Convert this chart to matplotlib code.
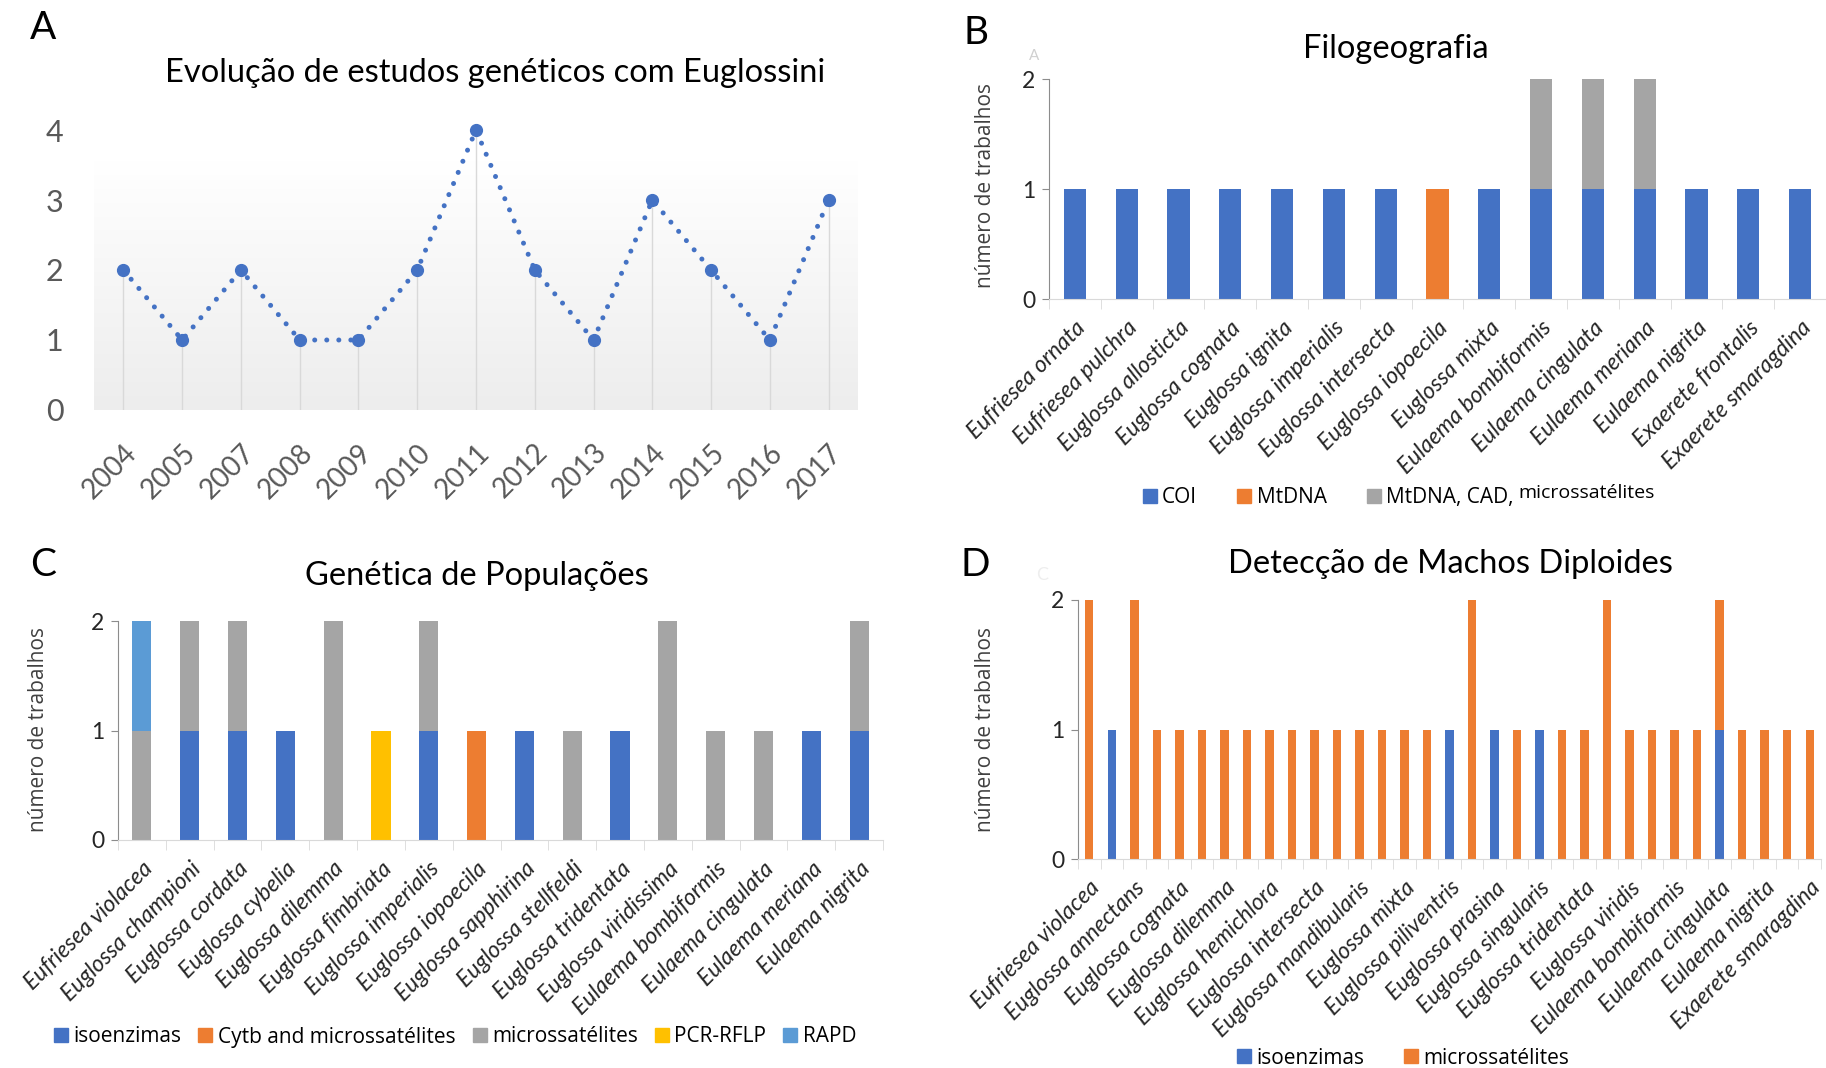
import matplotlib.pyplot as plt
from matplotlib.colors import LinearSegmentedColormap
from matplotlib.lines import Line2D
import numpy as np

W, H = 1826, 1068

BLUE = "#4472C4"
ORANGE = "#ED7D31"
GRAY = "#A5A5A5"
YELLOW = "#FFC000"
LIGHT_BLUE = "#5B9BD5"

# A - estudos por ano
years = ["2004", "2005", "2007", "2008", "2009", "2010", "2011",
         "2012", "2013", "2014", "2015", "2016", "2017"]
studies = [2, 1, 2, 1, 1, 2, 4, 2, 1, 3, 2, 1, 3]

# B - filogeografia
filo_species = ["Eufriesea ornata", "Eufriesea pulchra", "Euglossa allosticta",
                "Euglossa cognata", "Euglossa ignita", "Euglossa imperialis",
                "Euglossa intersecta", "Euglossa iopoecila", "Euglossa mixta",
                "Eulaema bombiformis", "Eulaema cingulata", "Eulaema meriana",
                "Eulaema nigrita", "Exaerete frontalis", "Exaerete smaragdina"]
filo_coi = [1, 1, 1, 1, 1, 1, 1, 0, 1, 1, 1, 1, 1, 1, 1]
filo_mtdna = [0, 0, 0, 0, 0, 0, 0, 1, 0, 0, 0, 0, 0, 0, 0]
filo_mix = [0, 0, 0, 0, 0, 0, 0, 0, 0, 1, 1, 1, 0, 0, 0]

# C - genetica de populacoes
pop_species = ["Eufriesea violacea", "Euglossa championi", "Euglossa cordata",
               "Euglossa cybelia", "Euglossa dilemma", "Euglossa fimbriata",
               "Euglossa imperialis", "Euglossa iopoecila", "Euglossa sapphirina",
               "Euglossa stellfeldi", "Euglossa tridentata", "Euglossa viridissima",
               "Eulaema bombiformis", "Eulaema cingulata", "Eulaema meriana",
               "Eulaema nigrita"]
pop_iso = [0, 1, 1, 1, 0, 0, 1, 0, 1, 0, 1, 0, 0, 0, 1, 1]
pop_cytb = [0, 0, 0, 0, 0, 0, 0, 1, 0, 0, 0, 0, 0, 0, 0, 0]
pop_micro = [1, 1, 1, 0, 2, 0, 1, 0, 0, 1, 0, 2, 1, 1, 0, 1]
pop_pcr = [0, 0, 0, 0, 0, 1, 0, 0, 0, 0, 0, 0, 0, 0, 0, 0]
pop_rapd = [1, 0, 0, 0, 0, 0, 0, 0, 0, 0, 0, 0, 0, 0, 0, 0]

# D - machos diploides (33 especies, rotulo a cada duas)
dip_labels = ["Eufriesea violacea", "Euglossa annectans", "Euglossa cognata",
              "Euglossa dilemma", "Euglossa hemichlora", "Euglossa intersecta",
              "Euglossa mandibularis", "Euglossa mixta", "Euglossa piliventris",
              "Euglossa prasina", "Euglossa singularis", "Euglossa tridentata",
              "Euglossa viridis", "Eulaema bombiformis", "Eulaema cingulata",
              "Eulaema nigrita", "Exaerete smaragdina"]
dip_iso = [0, 1, 0, 0, 0, 0, 0, 0, 0, 0, 0, 0, 0, 0, 0, 0, 1,
           0, 1, 0, 1, 0, 0, 0, 0, 0, 0, 0, 1, 0, 0, 0, 0]
dip_micro = [2, 0, 2, 1, 1, 1, 1, 1, 1, 1, 1, 1, 1, 1, 1, 1, 0,
             2, 0, 1, 0, 1, 1, 2, 1, 1, 1, 1, 1, 1, 1, 1, 1]

plt.rcParams["font.family"] = ["Lato", "DejaVu Sans"]

TITLE_FS = 23.5
XLAB_FS = 16.5
LEG_FS = 15
YLAB_FS = 15

fig = plt.figure(figsize=(W / 100, H / 100), dpi=100)


def axes_px(left, top, right, bottom):
    return fig.add_axes([left / W, 1 - bottom / H, (right - left) / W, (bottom - top) / H])


def text_px(x, y, s, **kw):
    fig.text(x / W, 1 - y / H, s, **kw)


def style_bar_axes(ax, n, label_pos, labels):
    ax.set_xlim(-0.5, n - 0.5)
    ax.set_ylim(0, 2)
    for side in ("top", "right"):
        ax.spines[side].set_visible(False)
    ax.spines["left"].set_color("#8c8c8c")
    ax.spines["bottom"].set_color("#d9d9d9")
    ax.set_yticks([0, 1, 2])
    ax.tick_params(axis="y", length=5, color="#8c8c8c", labelsize=16.5,
                   labelcolor="#262626", pad=5)
    ax.set_xticks(label_pos)
    ax.set_xticklabels(labels, rotation=45, ha="right", rotation_mode="anchor",
                       fontstyle="italic", fontsize=XLAB_FS, color="#262626")
    ax.tick_params(axis="x", which="major", length=0, pad=13)
    ax.set_xticks(np.arange(-0.5, n), minor=True)
    ax.tick_params(axis="x", which="minor", length=7, color="#d9d9d9")


def y_title(x, y):
    text_px(x, y, "número de trabalhos", family="Open Sans", fontsize=YLAB_FS,
            color="#404040", rotation=90, ha="center", va="center")


def stacked(ax, series, colors, names, width):
    x = np.arange(len(series[0]))
    bottom = np.zeros(len(x))
    for vals, c, name in zip(series, colors, names):
        vals = np.asarray(vals, dtype=float)
        ax.bar(x, vals, width, bottom=bottom, color=c, label=name, zorder=2)
        bottom += vals


def add_legend(colors, names, cx, cy, colspace):
    handles = [Line2D([], [], marker="s", linestyle="none", markersize=10,
                      markerfacecolor=c, markeredgecolor=c, label=n)
               for c, n in zip(colors, names)]
    return fig.legend(handles=handles, loc="center",
                      bbox_to_anchor=(cx / W, 1 - cy / H), ncol=len(names),
                      frameon=False, handlelength=0.7, handletextpad=0.25,
                      columnspacing=colspace,
                      prop={"family": "Open Sans", "size": LEG_FS})


# ---- A ----
axA = axes_px(94, 88, 858, 410)
xa = np.arange(len(years))
grad = np.linspace(0, 1, 256).reshape(-1, 1)
cmap = LinearSegmentedColormap.from_list("bg", ["#ededed", "#ffffff"])
axA.imshow(grad, extent=[-0.5, len(years) - 0.5, 0, 3.55], aspect="auto",
           cmap=cmap, origin="lower", zorder=0)
axA.vlines(xa, 0, studies, color="#d9d9d9", lw=1, zorder=1)
axA.plot(xa, studies, color=BLUE, lw=3.6, linestyle=(0, (0.01, 2.4)),
         dash_capstyle="round", marker="o", ms=8.5, zorder=3)
axA.set_xlim(-0.5, len(years) - 0.5)
axA.set_ylim(0, 4.6)
for s in axA.spines.values():
    s.set_visible(False)
axA.set_yticks([0, 1, 2, 3, 4])
axA.tick_params(axis="y", length=0, labelsize=22, labelcolor="#595959", pad=22)
axA.set_xticks(xa)
axA.set_xticklabels(years, rotation=45, ha="right", rotation_mode="anchor",
                    fontsize=20, color="#595959")
axA.tick_params(axis="x", length=0, pad=21)
text_px(43, 28, "A", fontsize=28, ha="center", va="center")
text_px(495, 73, "Evolução de estudos genéticos com Euglossini",
        fontsize=TITLE_FS, ha="center", va="center")

# ---- B ----
axB = axes_px(1049, 79, 1826, 299)
b_names = ["COI", "MtDNA", "MtDNA, CAD,"]
b_colors = [BLUE, ORANGE, GRAY]
stacked(axB, [filo_coi, filo_mtdna, filo_mix], b_colors, b_names, 0.43)
style_bar_axes(axB, len(filo_species), np.arange(len(filo_species)), filo_species)
y_title(985, 185)
text_px(976, 33, "B", fontsize=28, ha="center", va="center")
text_px(1396, 49, "Filogeografia", fontsize=TITLE_FS, ha="center", va="center")
text_px(1034, 56, "A", fontsize=11, color="#d0d0d0", ha="center", va="center")
legB = add_legend(b_colors, b_names, 1328, 498, 1.9)

# ---- C ----
axC = axes_px(118, 621, 883, 840)
c_names = ["isoenzimas", "Cytb and microssatélites", "microssatélites",
           "PCR-RFLP", "RAPD"]
c_colors = [BLUE, ORANGE, GRAY, YELLOW, LIGHT_BLUE]
stacked(axC, [pop_iso, pop_cytb, pop_micro, pop_pcr, pop_rapd], c_colors,
        c_names, 0.40)
style_bar_axes(axC, len(pop_species), np.arange(len(pop_species)), pop_species)
y_title(39, 729)
text_px(43, 565, "C", fontsize=28, ha="center", va="center")
text_px(477, 576, "Genética de Populações", fontsize=TITLE_FS,
        ha="center", va="center")
add_legend(c_colors, c_names, 455, 1037, 0.8)

# ---- D ----
axD = axes_px(1078, 600, 1821, 859)
d_names = ["isoenzimas", "microssatélites"]
stacked(axD, [dip_iso, dip_micro], [BLUE, ORANGE], d_names, 0.375)
style_bar_axes(axD, len(dip_iso), np.arange(0, len(dip_iso), 2), dip_labels)
y_title(985, 729)
text_px(975, 565, "D", fontsize=28, ha="center", va="center")
text_px(1450, 564, "Detecção de Machos Diploides", fontsize=TITLE_FS,
        ha="center", va="center")
text_px(1042, 575, "C", fontsize=13, color="#eeeeee", ha="center", va="center")
add_legend([BLUE, ORANGE], d_names, 1403, 1058, 1.9)

# raised tail of the third legend entry in B
fig.canvas.draw()
last = legB.get_texts()[-1].get_window_extent()
fig.text((last.x1 + 5) / W, (last.y1 + 3) / H, "microssatélites",
         family="Open Sans", fontsize=14, ha="left", va="top")

fig.savefig("out.png", dpi=100)
